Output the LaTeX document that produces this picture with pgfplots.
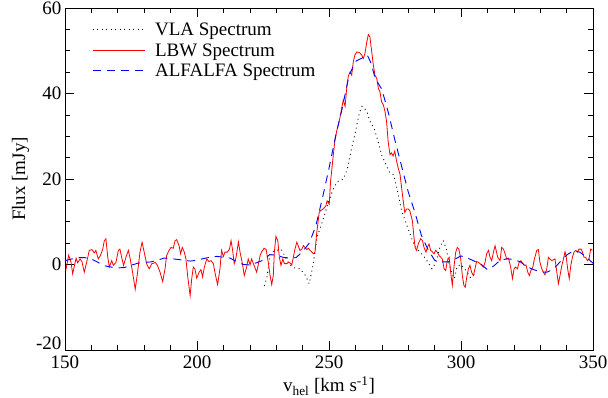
\documentclass[border=0pt]{standalone}
\usepackage{fontspec}
\setmainfont{Liberation Serif}
\usepackage{pgfplots}
\pgfplotsset{compat=1.18}
\begin{document}
\begin{tikzpicture}
\useasboundingbox (-65pt,-47pt) rectangle (543pt,350pt);
\begin{axis}[
 at={(0,0)}, anchor=south west,
 width=528pt, height=342pt, scale only axis,
 xmin=150, xmax=350, ymin=-20, ymax=60,
 xtick={150,200,...,350}, ytick={0,20,40,60},
 extra y ticks={-20},
 extra y tick style={yticklabel style={yshift=7pt}},
 minor x tick num=4, minor y tick num=3,
 tick align=inside, major tick length=9pt, minor tick length=5pt,
 tick style={black, line width=0.6pt},
 axis line style={line width=0.8pt},
 /pgf/number format/assume math mode=true,
 ticklabel style={font=\fontsize{19}{21}\selectfont},
 xticklabel style={yshift=-2pt},
 label style={font=\fontsize{19}{21}\selectfont},
 xlabel={v\textsubscript{hel} [km s\textsuperscript{-1}]},
 xlabel style={yshift=-1.5pt},
 ylabel={Flux [mJy]},
 legend style={draw=none, fill=none, at={(0,1)}, anchor=north west, xshift=24pt, yshift=-11pt,
   font=\fontsize{19}{21}\selectfont, row sep=2.5pt},
 legend cell align=left,
 legend image code/.code={\draw[#1] (0pt,0.5pt) -- (52pt,0.5pt); \path (60pt,0pt);},
]
\addlegendimage{color=black, draw=black, line width=0.9pt, dash pattern=on 0.9pt off 3.6pt}
\addlegendentry{VLA Spectrum}
\addlegendimage{color=red, draw=red, line width=0.8pt}
\addlegendentry{LBW Spectrum}
\addlegendimage{color=blue, draw=blue, line width=0.9pt, dash pattern=on 8pt off 6pt}
\addlegendentry{ALFALFA Spectrum}
\addplot[forget plot, color=black, line width=0.9pt, dash pattern=on 0.9pt off 3.6pt] coordinates {
(225.5,-5.0) (226.5,-3.0) (227.5,1.5) (228.5,3.0) (230,3.3) (232,3.5) (233.5,1.7) (235,0.0)
(237,-0.8) (239,-1.0) (241,-2.5) (242.5,-4.5) (244,0.0) (245.5,6.5) (247.5,10.0) (249.5,14.0)
(251.5,17.5) (253,19.3) (255.5,20.0) (257,22.5) (258.5,27.0) (260,31.0) (261.5,35.5) (262.5,37.0)
(263.5,36.5) (264.5,35.5) (265.5,33.5) (267,32.0) (268.5,29.0) (270,25.5) (271.5,23.5) (273,21.5)
(274.5,21.0) (276,17.0) (277.5,12.6) (279,10.0) (280.5,7.5) (282,5.0) (283.5,3.5) (285,2.5)
(286.5,1.5) (288,0.0) (289,-1.0) (290.5,0.5) (292,4.0) (293.3,5.6) (294.5,3.5) (295.5,0.0)
(296.5,-2.0) (297.5,-3.3) (298.5,-0.5) (300,0.0) (302,-1.5) (303.5,-3.0) (305,-2.3)
};
\addplot[forget plot, color=red, line width=0.8pt] coordinates {
(150.3,-1.4) (151.4,2.2) (152.3,0.5) (152.9,-2.2) (153.6,-0.2) (154.2,1.5) (154.8,0.4) (155.7,1.3)
(156.4,0.7) (157.3,-1.8) (158.2,0.5) (159.2,3.3) (160.2,3.5) (161.1,2.7) (161.7,3.3) (162.6,1.3)
(163.4,2.1) (164.3,3.6) (164.9,5.6) (165.5,6.0) (166.2,1.7) (166.8,-0.6) (167.7,0.9) (168.3,-0.2)
(169.3,0.5) (170.2,3.3) (170.8,3.6) (171.6,1.3) (172.2,-0.2) (173.1,1.7) (174.0,3.3) (174.7,1.3)
(175.6,-1.8) (176.6,-5.8) (177.5,-1.8) (178.4,2.9) (179.2,5.2) (180.0,2.9) (180.9,0.2) (181.9,-1.0)
(182.9,0.2) (183.5,0.3) (184.2,0.5) (185.0,-0.2) (186.0,-1.8) (187.0,-4.0) (187.9,-1.0) (188.5,2.1)
(189.4,3.3) (190.2,4.0) (191.0,3.8) (191.7,5.6) (192.3,5.8) (193.2,4.4) (193.8,2.5) (194.4,4.0)
(195.2,2.9) (195.8,1.3) (196.5,-2.9) (197.4,-7.3) (198.0,-3.3) (198.6,-0.6) (199.2,-1.0) (199.9,-3.2)
(200.8,-1.8) (201.5,-1.2) (202.1,-2.9) (202.8,-0.6) (203.7,1.3) (204.5,0.7) (205.3,0.9) (206.2,0.2)
(206.9,-2.2) (207.8,-4.7) (208.7,-1.0) (209.3,3.3) (210.0,1.9) (210.6,2.9) (211.5,2.9) (212.3,3.6)
(212.9,5.6) (213.5,3.3) (214.1,0.2) (214.8,1.7) (215.7,5.3) (216.3,2.9) (217.2,0.2) (217.9,-2.6)
(218.8,-0.6) (219.4,1.3) (220.1,-0.1) (220.7,1.3) (221.6,-0.2) (222.6,-1.8) (223.3,0.2) (223.9,2.1)
(224.5,3.0) (225.4,3.8) (226.2,3.5) (227.0,0.5) (227.7,-2.6) (228.3,-4.7) (228.9,-2.6) (229.3,2.9)
(229.9,6.6) (230.6,5.6) (231.2,1.7) (231.8,-0.2) (232.5,1.3) (233.1,0.2) (234.0,0.2) (234.6,0.5)
(235.2,0.4) (235.9,-0.1) (236.5,1.7) (237.1,3.6) (237.8,5.2) (238.4,4.3) (239.0,3.3) (239.7,3.6)
(240.3,4.4) (240.9,4.0) (241.6,3.5) (242.2,3.8) (242.8,3.3) (243.5,2.9) (244.1,2.5) (244.7,2.9)
(245.3,7.1) (246.3,12.2) (246.8,12.6) (247.8,13.0) (248.8,13.7) (249.3,14.9) (250.1,14.1) (250.6,19.5)
(251.4,24.2) (252.2,28.8) (252.9,31.2) (253.5,32.7) (254.2,34.5) (254.8,36.5) (255.4,38.5) (256.1,37.0)
(256.7,41.2) (257.3,44.0) (258.0,45.1) (258.6,44.3) (259.2,47.4) (259.8,49.0) (260.5,49.7) (261.5,49.6)
(262.4,49.0) (263.0,48.2) (263.6,49.3) (264.3,52.0) (264.9,53.8) (265.5,53.2) (266.2,49.7) (266.8,46.6)
(267.4,44.3) (268.1,43.5) (268.7,41.2) (269.3,40.4) (269.9,38.1) (270.6,37.3) (271.2,35.8) (271.8,33.5)
(272.4,28.8) (273.1,25.7) (273.7,26.1) (274.3,25.4) (274.9,26.5) (275.6,24.2) (276.2,22.6) (276.9,21.1)
(277.5,18.0) (278.1,14.9) (278.7,12.2) (279.4,13.0) (280.0,13.0) (280.6,12.6) (281.6,10.2) (282.0,7.5)
(282.6,4.0) (283.2,3.3) (283.8,4.8) (284.7,6.0) (285.4,5.6) (286.0,4.0) (286.7,2.9) (287.3,4.0)
(287.9,4.8) (288.5,3.3) (289.1,3.0) (289.8,2.5) (290.4,3.3) (291.0,2.9) (291.7,2.1) (292.3,1.7)
(292.9,1.3) (293.6,-1.0) (294.2,-1.4) (294.8,0.9) (295.5,1.7) (296.1,-1.8) (296.7,-4.9) (297.4,-0.2)
(298.0,2.9) (298.6,4.0) (299.2,3.6) (299.9,1.3) (300.5,-2.6) (301.1,-4.9) (301.6,-5.3) (302.2,-2.9)
(302.8,-1.0) (303.4,-0.2) (304.0,-1.8) (304.7,-2.6) (305.3,-1.0) (305.9,0.7) (306.6,0.5) (307.2,0.2)
(307.8,-0.1) (308.5,-0.6) (309.1,0.5) (309.7,2.5) (310.4,3.3) (311.0,1.7) (311.6,0.9) (312.3,2.9)
(312.9,4.4) (313.9,1.7) (314.8,0.9) (315.4,4.0) (316.1,3.6) (316.7,2.5) (317.3,1.3) (318.0,1.5)
(318.8,-0.6) (319.5,-3.3) (320.1,-1.0) (320.7,-0.6) (321.4,-1.0) (322.0,0.5) (322.7,0.9) (323.4,0.2)
(324.0,-0.2) (324.6,-0.1) (325.3,-1.8) (325.9,-2.6) (326.5,-1.4) (327.2,-0.6) (327.8,1.3) (328.7,3.3)
(329.3,3.5) (329.9,0.5) (330.6,-1.0) (331.2,-1.8) (331.8,-2.4) (332.5,-1.0) (333.1,1.7) (333.7,1.3)
(334.4,0.9) (335.0,1.1) (335.6,1.3) (336.3,-1.8) (336.9,-4.5) (337.5,-2.6) (338.2,-0.2) (338.8,1.3)
(339.4,3.0) (339.8,2.1) (340.4,-1.0) (341.0,-3.3) (341.6,-0.2) (342.2,1.7) (342.8,2.9) (343.5,3.3)
(344.1,2.9) (344.7,3.6) (345.5,3.6) (346.0,2.9) (346.6,1.7) (347.2,1.7) (347.9,0.9) (348.5,1.3)
(349.1,3.6) (349.8,3.3)
};
\addplot[forget plot, color=blue, line width=0.9pt, dash pattern=on 8pt off 6pt] coordinates {
(150,0.9) (152.5,1.3) (155,1.6) (157.5,1.6) (160,1.3) (162.5,0.5) (165,-0.3) (167.5,-0.6)
(170,-0.8) (172.5,-0.7) (175,-0.2) (177.5,0.3) (180,0.5) (182.5,0.6) (185,1.0) (187.5,1.5)
(190,1.4) (192.5,1.2) (195,1.0) (197.5,0.8) (200,1.0) (202.5,1.4) (205,1.7) (207.5,1.9)
(210,1.7) (212.5,1.5) (215,0.7) (217.5,0.0) (220,-0.1) (222.5,0.4) (225,1.0) (227.5,2.3)
(230,2.2) (232.5,1.7) (235,1.5) (237.5,1.6) (240,3.0) (242.5,5.0) (245,9.0) (247.5,15.5)
(250,22.5) (252.5,30.0) (255,36.5) (257.5,44.0) (260,47.5) (262.5,48.3) (264.5,49.0) (266,47.0)
(267.5,43.5) (270,41.0) (272.5,35.5) (275,29.0) (277.5,23.0) (280,17.0) (282.5,12.3) (285,6.8)
(287.5,3.5) (290,1.0) (292.5,0.6) (295,0.6) (297.5,1.2) (300,2.0) (302.5,1.5) (305,0.8)
(307.5,0.1) (310,-1.2) (312.5,-0.3) (315,1.1) (317.5,1.3) (320,1.2) (322.5,0.6) (325,-0.5)
(327.5,-1.2) (330,-1.7) (332.5,-1.8) (335,-1.1) (337.5,0.6) (340,2.2) (342.5,3.2) (345,2.9)
(347.5,1.7) (350,0.3)
};
\end{axis}
\end{tikzpicture}
\end{document}
